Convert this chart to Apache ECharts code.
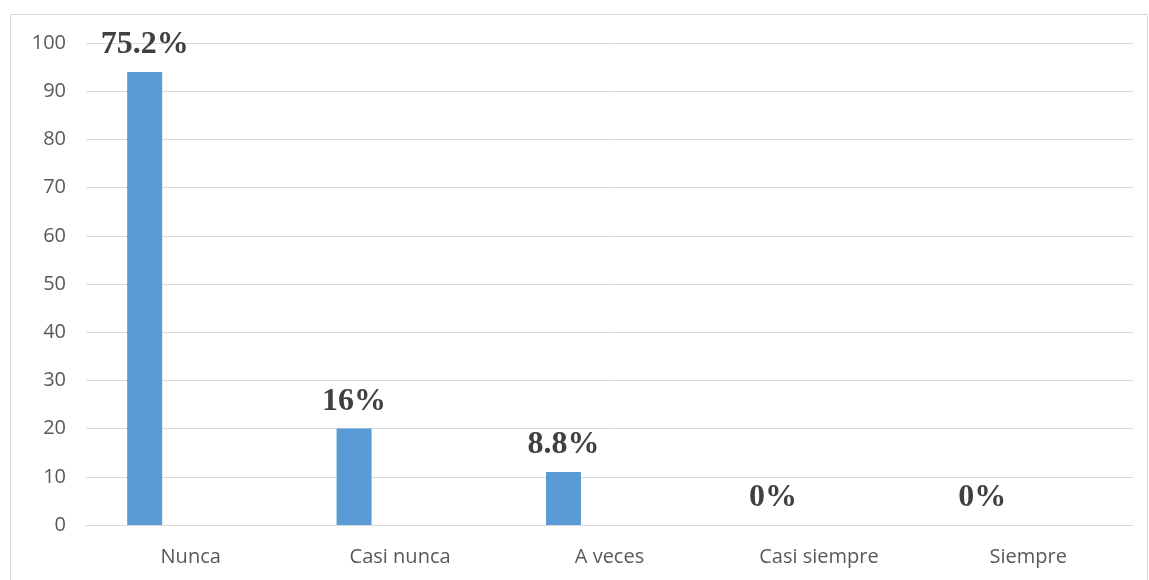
<!DOCTYPE html>
<html>
<head>
<meta charset="utf-8">
<script src="https://cdn.jsdelivr.net/npm/echarts@6/dist/echarts.min.js"></script>
<style>html,body{margin:0;padding:0;background:#fff}#c{width:1149px;height:580px}</style>
</head>
<body>
<div id="c"></div>
<script>
const categories = ['Nunca', 'Casi nunca', 'A veces', 'Casi siempre', 'Siempre'];
const counts = [94, 20, 11, 0, 0];
const percentLabels = ['75.2%', '16%', '8.8%', '0%', '0%'];
const yTicks = [0, 10, 20, 30, 40, 50, 60, 70, 80, 90, 100];

const chart = echarts.init(document.getElementById('c'));
chart.setOption({
  animation: false,
  backgroundColor: '#fff',
  graphic: [{
    type: 'rect', silent: true,
    shape: { x: 10.5, y: 14.5, width: 1137, height: 600 },
    style: { fill: 'none', stroke: '#d9d9d9', lineWidth: 1 }
  }],
  grid: { left: 86, right: 16, top: 43, bottom: 55, containLabel: false },
  xAxis: {
    type: 'category', data: categories,
    axisLine: { show: true, lineStyle: { color: '#d9d9d9', width: 1 } },
    axisTick: { show: false },
    axisLabel: { color: '#595959', fontFamily: 'Open Sans', fontSize: 20, margin: 22 }
  },
  yAxis: {
    type: 'value', min: yTicks[0], max: yTicks[yTicks.length - 1], interval: 10,
    axisLine: { show: false }, axisTick: { show: false },
    splitLine: { lineStyle: { color: '#d9d9d9', width: 1 } },
    axisLabel: { color: '#595959', fontFamily: 'Open Sans', fontSize: 20, margin: 20 }
  },
  series: [{
    type: 'bar', data: counts, barWidth: 35, barGap: '163%',
    itemStyle: { color: '#5b9bd5' },
    label: {
      show: true, position: 'top', distance: 11,
      formatter: p => percentLabels[p.dataIndex],
      fontFamily: 'Liberation Serif', fontWeight: 'bold', fontSize: 32, color: '#404040'
    }
  }, {
    type: 'bar', data: categories.map(() => null), barWidth: 35,
    itemStyle: { color: 'transparent' }
  }]
});
</script>
</body>
</html>
